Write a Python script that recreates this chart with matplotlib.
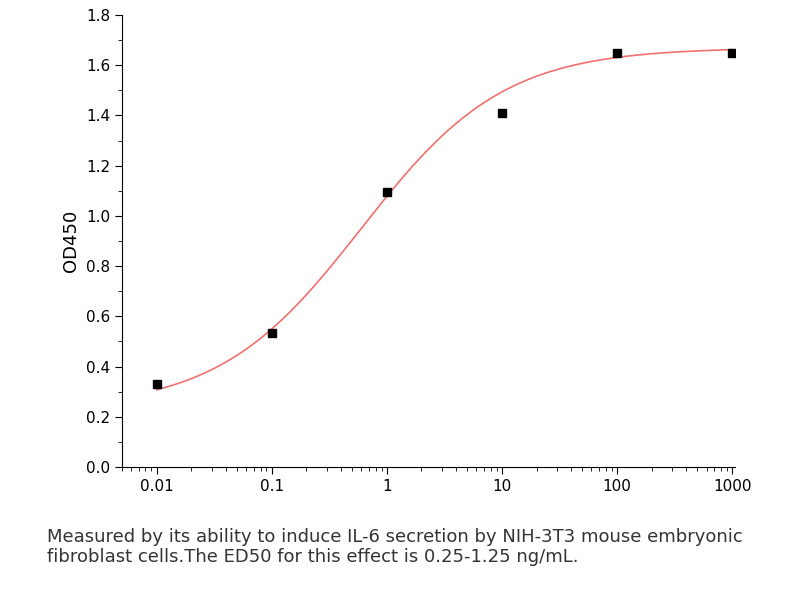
import numpy as np
import matplotlib
matplotlib.use("Agg")
import matplotlib.pyplot as plt
from matplotlib.ticker import MultipleLocator, LogLocator, NullFormatter

conc = [0.01, 0.1, 1, 10, 100, 1000]
od = [0.33, 0.535, 1.095, 1.41, 1.65, 1.65]
# 4PL fit parameters (bottom, top, EC50, hill)
fit_bottom, fit_top, fit_ec50, fit_hill = 0.23, 1.67, 0.6, 0.7
xticklabels = ["0.01", "0.1", "1", "10", "100", "1000"]

fig = plt.figure(figsize=(8.04, 6.0), dpi=100)
ax = fig.add_axes([122/804, 1-467/600, (735-122)/804, (467-15)/600])
xs = np.logspace(-2, 3, 400)
ys = fit_bottom + (fit_top - fit_bottom) / (1 + (fit_ec50 / xs) ** fit_hill)
ax.plot(xs, ys, color="#f07070", lw=1.2)
ax.plot(conc, od, "s", color="black", ms=6)
ax.set_xscale("log")
ax.set_xlim(0.005, 1060)
ax.set_ylim(0, 1.8)
ax.set_xticks(conc)
ax.set_xticklabels(xticklabels)
ax.xaxis.set_minor_locator(LogLocator(base=10, subs=np.arange(2, 10)))
ax.xaxis.set_minor_formatter(NullFormatter())
ax.yaxis.set_major_locator(MultipleLocator(0.2))
ax.yaxis.set_minor_locator(MultipleLocator(0.1))
ax.set_yticklabels([f"{v:.1f}" for v in ax.get_yticks()])
for s in ["top", "right"]:
    ax.spines[s].set_visible(False)
ax.tick_params(labelsize=11, length=5)
ax.tick_params(which="minor", length=3)
ax.set_ylabel("OD450", fontsize=13)
fig.text(47/804, 1-547/600, "Measured by its ability to induce IL-6 secretion by NIH-3T3 mouse embryonic\nfibroblast cells.The ED50 for this effect is 0.25-1.25 ng/mL.",
         fontsize=13, va="center", ha="left", color="#333333", linespacing=1.15)
fig.savefig("out.png", dpi=100)
